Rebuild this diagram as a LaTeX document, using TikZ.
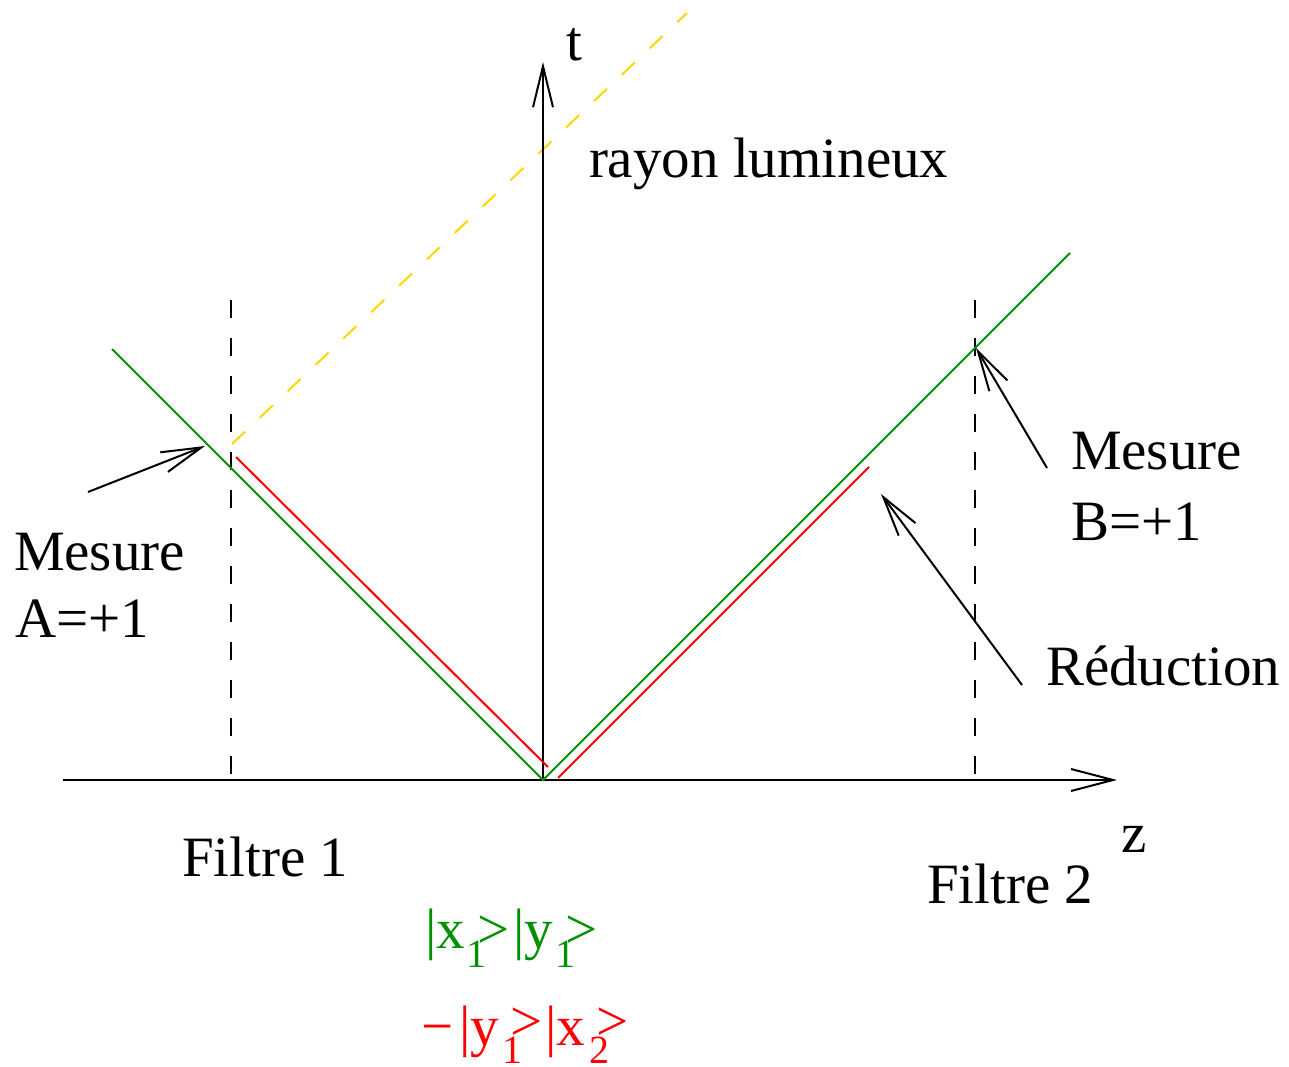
\documentclass[tikz,border=0pt]{standalone}
\usepackage{fontspec}
\setmainfont{Liberation Serif}
\usetikzlibrary{arrows.meta}
\definecolor{xgreen}{RGB}{0,144,0}
\definecolor{xred}{RGB}{255,0,0}
\definecolor{xgold}{RGB}{255,215,0}
\tikzset{
  lbl/.style={anchor=base west,inner sep=0pt,outer sep=0pt,font=\fontsize{57}{68}\selectfont},
  sublbl/.style={anchor=base west,inner sep=0pt,outer sep=0pt,font=\fontsize{40}{48}\selectfont},
  ln/.style={line width=2pt},
  barb/.style={-{Straight Barb[length=40pt,width=21pt,line width=2pt]}},
  filt/.style={ln,dash pattern=on 18pt off 20pt},
  ray/.style={ln,xgold,dash pattern=on 18pt off 20.35pt}
}
\begin{document}
\begin{tikzpicture}[x=1pt,y=-1pt]
\useasboundingbox (0,0) rectangle (1289,1067);
% coordinates
\coordinate (O) at (543,780);
\coordinate (zs) at (63,780);
\coordinate (ze) at (1117,780);
\coordinate (te) at (543,62);
\coordinate (GL) at (112,349);
\coordinate (GR) at (1070,253);
\coordinate (RL1) at (236,457);
\coordinate (RL2) at (548,767);
\coordinate (RR1) at (558,778);
\coordinate (RR2) at (869,467);
\coordinate (Y1) at (232,444);
\coordinate (Y2) at (687,13);
\coordinate (F1t) at (231,300);
\coordinate (F1b) at (231,780);
\coordinate (F2t) at (975,300);
\coordinate (F2b) at (975,780);
\coordinate (As) at (88,492);
\coordinate (At) at (205,446);
\coordinate (Bs) at (1047,468);
\coordinate (Bt) at (976,348);
\coordinate (Rs) at (1022,685);
\coordinate (Rt) at (881,494);
% filters
\draw[filt] (F1t) -- (F1b);
\draw[filt] (F2t) -- (F2b);
% light ray
\draw[ray] (Y1) -- (Y2);
% axes
\draw[ln,-{Straight Barb[length=42pt,width=22pt,line width=2pt]}] (zs) -- (ze);
\draw[ln,-{Straight Barb[length=41pt,width=20pt,line width=2pt]}] (O) -- (te);
% world lines
\draw[ln,xgreen] (GL) -- (O) -- (GR);
\draw[ln,xred] (RL1) -- (RL2);
\draw[ln,xred] (RR1) -- (RR2);
% pointer arrows
\draw[ln,barb] (As) -- (At);
\draw[ln,barb] (Bs) -- (Bt);
\draw[ln,barb] (Rs) -- (Rt);
% labels
\node[lbl] (tl) at (566,61) {t};
\node[lbl] (zl) at (1121,852) {z};
\node[lbl] (ray) at (589,178) {rayon lumineux};
\node[lbl] (mA) at (14,570) {Mesure};
\node[lbl] (vA) at (15,637) {A=+1};
\node[lbl] (mB) at (1071,469) {Mesure};
\node[lbl] (vB) at (1071,540) {B=+1};
\node[lbl] (red) at (1046,685) {Réduction};
\node[lbl] (f1) at (182,876) {Filtre 1};
\node[lbl] (f2) at (927,903) {Filtre 2};
% green state
\begin{scope}[xgreen]
\node[lbl] (g1) at (425,948) {|x};
\node[sublbl] (g2) at (466,967) {1};
\node[lbl] (g3) at (477,948) {>};
\node[lbl] (g4) at (513,948) {|y};
\node[sublbl] (g5) at (555,967) {1};
\node[lbl] (g6) at (565,948) {>};
\end{scope}
% red state
\begin{scope}[xred]
\node[lbl] (r0) at (421,1045) {−};
\node[lbl] (r1) at (459,1045) {|y};
\node[sublbl] (r2) at (502,1063) {1};
\node[lbl] (r3) at (510,1040) {>};
\node[lbl] (r4) at (545,1045) {|x};
\node[sublbl] (r5) at (589,1063) {2};
\node[lbl] (r6) at (596,1040) {>};
\end{scope}
\end{tikzpicture}
\end{document}
